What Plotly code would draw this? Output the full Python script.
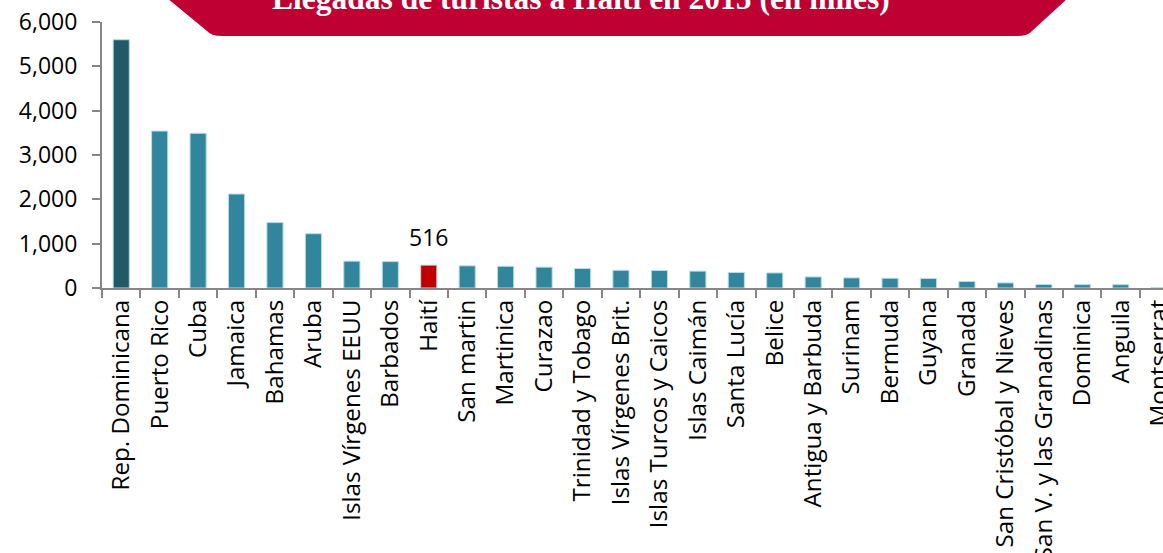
import plotly.graph_objects as go

paises = ["Rep. Dominicana", "Puerto Rico", "Cuba", "Jamaica", "Bahamas", "Aruba",
          "Islas Vírgenes EEUU", "Barbados", "Haití", "San martin", "Martinica", "Curazao",
          "Trinidad y Tobago", "Islas Vírgenes Brit.", "Islas Turcos y Caicos", "Islas Caimán",
          "Santa Lucía", "Belice", "Antigua y Barbuda", "Surinam", "Bermuda", "Guyana",
          "Granada", "San Cristóbal y Nieves", "San V. y las Granadinas", "Dominica",
          "Anguila", "Montserrat"]
llegadas = [5600, 3540, 3490, 2120, 1475, 1225, 605, 595, 516, 500, 490, 470,
            440, 400, 395, 380, 350, 340, 250, 228, 220, 213, 145, 115, 78, 76, 75, 9]
titulo = "Llegadas de turistas a Haití en 2015 (en miles)"
etiqueta_haiti = "516"

W, H = 1163, 553
L, R, T, B = 102, 0, 22, 265
PW, PH = W - L - R, H - T - B

colores = []
for p in paises:
    if p == "Rep. Dominicana":
        colores.append("#215968")
    elif p == "Haití":
        colores.append("#C00000")
    else:
        colores.append("#31859C")

fig = go.Figure()
fig.add_trace(go.Bar(
    x=paises, y=llegadas,
    marker=dict(color=colores, line=dict(color="#B7DDE8", width=1)),
    width=0.42, showlegend=False, hoverinfo="x+y",
))

def px2paper(px, py):
    return (px - L) / PW, (H - B - py) / PH

pts = [(167, -2), (207, 31), (222, 36), (1017, 36), (1032, 31), (1068, -2)]
pp = [px2paper(*p) for p in pts]
q1 = px2paper(211, 36)
q2 = px2paper(1028, 36)
path = (f"M {pp[0][0]},{pp[0][1]} L {pp[1][0]},{pp[1][1]} "
        f"Q {q1[0]},{q1[1]} {pp[2][0]},{pp[2][1]} "
        f"L {pp[3][0]},{pp[3][1]} "
        f"Q {q2[0]},{q2[1]} {pp[4][0]},{pp[4][1]} "
        f"L {pp[5][0]},{pp[5][1]} Z")
fig.add_shape(type="path", path=path, xref="paper", yref="paper",
              fillcolor="#BE0032", line=dict(width=0), layer="above")

tx, ty = px2paper(581, 18)
fig.add_annotation(text=f"<b>{titulo}</b>", xref="paper", yref="paper", x=tx, y=ty,
                   xanchor="center", yanchor="bottom", showarrow=False,
                   font=dict(family="Liberation Serif", size=31.5, color="white"))

fig.add_annotation(text=etiqueta_haiti, x="Haití", y=llegadas[paises.index("Haití")],
                   yanchor="bottom", yshift=10, showarrow=False,
                   font=dict(family="Open Sans", size=23, color="black"))

fig.update_layout(
    width=W, height=H,
    margin=dict(l=L, r=R, t=T, b=B, autoexpand=False),
    plot_bgcolor="white", paper_bgcolor="white",
    bargap=0.58,
    font=dict(family="Open Sans", size=23, color="black"),
)
fig.update_xaxes(
    range=[-0.5, 27.1], tickangle=-90, showline=True, linecolor="#868686", linewidth=2,
    ticks="outside", tickson="boundaries", ticklen=8, tickwidth=1.5, tickcolor="#868686",
    showgrid=False, tickfont=dict(family="Open Sans", size=24.2), ticklabeloverflow="allow",
)
fig.update_yaxes(
    range=[0, 6000], tickvals=[0, 1000, 2000, 3000, 4000, 5000, 6000],
    tickformat=",d", showline=True, linecolor="#868686", linewidth=2,
    ticks="outside", ticklen=8, tickwidth=1.5, tickcolor="#868686",
    showgrid=False, zeroline=False, ticklabelstandoff=10, ticklabeloverflow="allow",
    tickfont=dict(family="Open Sans", size=23),
)

fig.write_html("out.html", config={"displayModeBar": False},
               post_script="document.body.style.margin='0';")
